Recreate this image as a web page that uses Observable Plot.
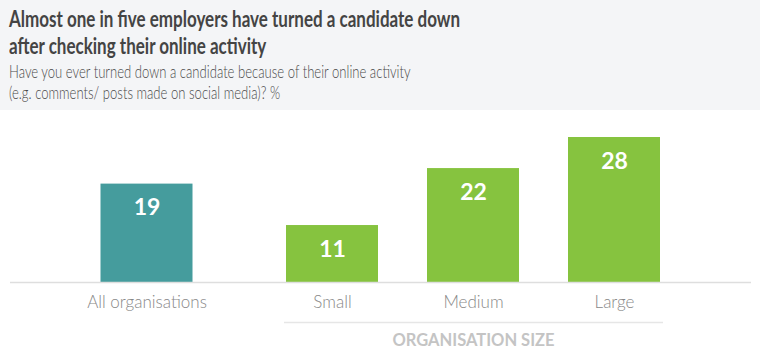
<!DOCTYPE html>
<html>
<head>
<meta charset="utf-8">
<script src="https://cdn.jsdelivr.net/npm/d3@7"></script>
<script src="https://cdn.jsdelivr.net/npm/@observablehq/plot@0.6"></script>
<style>
  html, body { margin: 0; padding: 0; background: #fff; }
  #wrap { width: 760px; height: 350px; overflow: hidden; font-family: Lato, "Open Sans", sans-serif; }
  #header { height: 110px; background: #f4f5f7; box-sizing: border-box; padding: 5px 0 0 9px; }
  .title div { font-size: 22px; line-height: 27px; height: 27px; font-weight: 700; color: #444; white-space: nowrap; transform: scaleX(0.773); transform-origin: 0 0; }
  .subtitle { margin-top: 2px; }
  .subtitle div { font-size: 17px; line-height: 21px; height: 21px; font-weight: 300; color: #4a4a4a; white-space: nowrap; transform: scaleX(0.77); transform-origin: 0 0; }
  #chart svg { display: block; }
</style>
</head>
<body>
<div id="wrap">
  <div id="header">
    <div class="title" id="title"></div>
    <div class="subtitle" id="subtitle"></div>
  </div>
  <div id="chart"></div>
</div>
<script>
const titleLines = ["Almost one in five employers have turned a candidate down", "after checking their online activity"];
const subtitleLines = ["Have you ever turned down a candidate because of their online activity", "(e.g. comments/ posts made on social media)? %"];
const categories = ["All organisations", "Small", "Medium", "Large"];
const values = [19, 11, 22, 28];
const groups = ["all", "size", "size", "size"];
const groupLabel = "ORGANISATION SIZE";

function fillLines(id, lines) {
  const el = document.getElementById(id);
  lines.forEach(t => { const d = document.createElement("div"); d.textContent = t; el.appendChild(d); });
}
fillLines("title", titleLines);
fillLines("subtitle", subtitleLines);

const data = categories.map((c, i) => ({category: c, value: values[i], group: groups[i]}));
const allData = data.filter(d => d.group === "all");
const sizeData = data.filter(d => d.group === "size");
const sizeCats = sizeData.map(d => d.category);
const allShift = -44.5;

const chart = Plot.plot({
  width: 760,
  height: 240,
  marginTop: 27,
  marginBottom: 68,
  marginLeft: 10,
  marginRight: 9,
  style: {fontFamily: "Lato, 'Open Sans', sans-serif", background: "#fff"},
  x: {domain: categories, range: [121, 685], paddingInner: 0.344, paddingOuter: 0.172, axis: null},
  y: {domain: [0, 28], axis: null},
  color: {domain: ["all", "size"], range: ["#459c9d", "#86c33f"]},
  marks: [
    Plot.barY(sizeData, {x: "category", y: "value", fill: "group"}),
    Plot.barY(allData, {x: "category", y: "value", fill: "group", dx: allShift}),
    Plot.ruleY([0], {stroke: "#dedede", strokeWidth: 1.5}),
    Plot.text(sizeData, {x: "category", y: "value", text: d => String(d.value), dy: 24, fill: "#fff", fontSize: 23, fontWeight: 700, lineAnchor: "middle"}),
    Plot.text(allData, {x: "category", y: "value", text: d => String(d.value), dy: 24, dx: allShift, fill: "#fff", fontSize: 23, fontWeight: 700, lineAnchor: "middle"}),
    Plot.text(sizeData, {x: "category", text: "category", frameAnchor: "bottom", dy: 20, fill: "#888", fontSize: 17, fontWeight: 300, lineAnchor: "middle"}),
    Plot.text(allData, {x: "category", text: "category", frameAnchor: "bottom", dy: 20, dx: allShift, fill: "#888", fontSize: 17, fontWeight: 300, lineAnchor: "middle"}),
    Plot.ruleY([0], {x1: [sizeCats[0]], x2: [sizeCats[sizeCats.length - 1]], dy: 40, stroke: "#e6e6e6", strokeWidth: 1.5, insetLeft: -2, insetRight: -3}),
    Plot.text([groupLabel], {x: [sizeCats[1]], text: d => d, frameAnchor: "bottom", dy: 58, fill: "#c4c4c4", fontSize: 16.5, fontWeight: 700, lineAnchor: "middle"})
  ]
});
document.getElementById("chart").appendChild(chart);
</script>
</body>
</html>
